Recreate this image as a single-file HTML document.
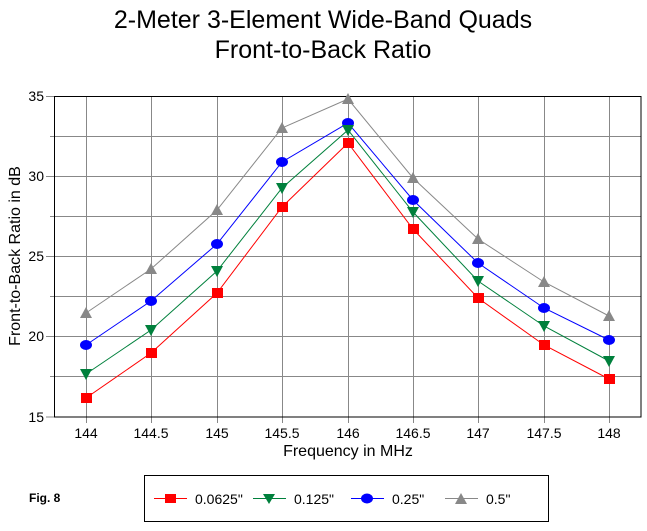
<!DOCTYPE html>
<html><head><style>
body{margin:0;background:#fff;}
svg text{font-family:"Liberation Sans",Arial,sans-serif;}
</style></head><body>
<svg width="647" height="526" xmlns="http://www.w3.org/2000/svg">
<rect width="647" height="526" fill="#fff"/>
<text x="323" y="28" font-size="25" text-anchor="middle">2-Meter 3-Element Wide-Band Quads</text>
<text x="323" y="58" font-size="25" text-anchor="middle">Front-to-Back Ratio</text>
<g stroke="#888" stroke-width="1">
<line x1="54" y1="136.5" x2="641" y2="136.5"/><line x1="50" y1="136.5" x2="54" y2="136.5"/>
<line x1="46" y1="176.5" x2="641" y2="176.5"/>
<line x1="54" y1="216.5" x2="641" y2="216.5"/><line x1="50" y1="216.5" x2="54" y2="216.5"/>
<line x1="46" y1="256.5" x2="641" y2="256.5"/>
<line x1="54" y1="296.5" x2="641" y2="296.5"/><line x1="50" y1="296.5" x2="54" y2="296.5"/>
<line x1="46" y1="336.5" x2="641" y2="336.5"/>
<line x1="54" y1="376.5" x2="641" y2="376.5"/><line x1="50" y1="376.5" x2="54" y2="376.5"/>
<line x1="46" y1="417" x2="54" y2="417"/><line x1="46" y1="96.5" x2="54" y2="96.5"/>
<line x1="86.5" y1="96" x2="86.5" y2="423"/>
<line x1="151.5" y1="96" x2="151.5" y2="423"/>
<line x1="217.5" y1="96" x2="217.5" y2="423"/>
<line x1="282.5" y1="96" x2="282.5" y2="423"/>
<line x1="348.5" y1="96" x2="348.5" y2="423"/>
<line x1="413.5" y1="96" x2="413.5" y2="423"/>
<line x1="478.5" y1="96" x2="478.5" y2="423"/>
<line x1="544.5" y1="96" x2="544.5" y2="423"/>
<line x1="609.5" y1="96" x2="609.5" y2="423"/>
</g>
<rect x="54.5" y="96.5" width="586.5" height="320.5" fill="none" stroke="#000"/>
<g font-size="14" text-anchor="end">
<text x="44" y="101">35</text><text x="44" y="181">30</text><text x="44" y="261">25</text><text x="44" y="341">20</text><text x="44" y="422">15</text>
</g>
<g font-size="14" text-anchor="middle">
<text x="86" y="438">144</text><text x="151" y="438">144.5</text><text x="217" y="438">145</text><text x="282" y="438">145.5</text><text x="348" y="438">146</text><text x="413" y="438">146.5</text><text x="478" y="438">147</text><text x="544" y="438">147.5</text><text x="609" y="438">148</text>
</g>
<text x="348" y="456" font-size="16" text-anchor="middle">Frequency in MHz</text>
<text transform="translate(20,256) rotate(-90)" font-size="16" text-anchor="middle">Front-to-Back Ratio in dB</text>
<g fill="none" stroke-width="1">
<polyline stroke="#888" points="86,313 151,269 217,210 282,128 348,99 413,178 478,239 544,282 609,316"/>
<polyline stroke="#00f" points="86,345 151,301 217,244 282,162 348,123 413,200 478,263 544,308 609,340"/>
<polyline stroke="#00803c" points="86,374 151,330 217,271 282,188 348,130 413,212 478,281 544,326 609,361"/>
<polyline stroke="#f00" points="86,398 151,353 217,293 282,207 348,143 413,229 478,298 544,345 609,379"/>
</g>
<g fill="#888">
<polygon points="86,307 80,318 92,318"/><polygon points="151,263 145,274 157,274"/><polygon points="217,204 211,215 223,215"/><polygon points="282,122 276,133 288,133"/><polygon points="348,93 342,104 354,104"/><polygon points="413,172 407,183 419,183"/><polygon points="478,233 472,244 484,244"/><polygon points="544,276 538,287 550,287"/><polygon points="609,310 603,321 615,321"/>
</g>
<g fill="#00f">
<ellipse cx="86" cy="345" rx="6" ry="5"/><ellipse cx="151" cy="301" rx="6" ry="5"/><ellipse cx="217" cy="244" rx="6" ry="5"/><ellipse cx="282" cy="162" rx="6" ry="5"/><ellipse cx="348" cy="123" rx="6" ry="5"/><ellipse cx="413" cy="200" rx="6" ry="5"/><ellipse cx="478" cy="263" rx="6" ry="5"/><ellipse cx="544" cy="308" rx="6" ry="5"/><ellipse cx="609" cy="340" rx="6" ry="5"/>
</g>
<g fill="#00803c">
<polygon points="80,369 92,369 86,380"/><polygon points="145,325 157,325 151,336"/><polygon points="211,266 223,266 217,277"/><polygon points="276,183 288,183 282,194"/><polygon points="342,125 354,125 348,136"/><polygon points="407,207 419,207 413,218"/><polygon points="472,276 484,276 478,287"/><polygon points="538,321 550,321 544,332"/><polygon points="603,356 615,356 609,367"/>
</g>
<g fill="#f00">
<rect x="81" y="393" width="11" height="10"/><rect x="146" y="348" width="11" height="10"/><rect x="212" y="288" width="11" height="10"/><rect x="277" y="202" width="11" height="10"/><rect x="343" y="138" width="11" height="10"/><rect x="408" y="224" width="11" height="10"/><rect x="473" y="293" width="11" height="10"/><rect x="539" y="340" width="11" height="10"/><rect x="604" y="374" width="11" height="10"/>
</g>
<text x="29" y="502" font-size="12" font-weight="bold">Fig. 8</text>
<rect x="144.5" y="475.5" width="404" height="46" fill="none" stroke="#000"/>
<g font-size="14">
<line x1="154" y1="498.5" x2="187" y2="498.5" stroke="#f00"/><rect x="165" y="494" width="11" height="9" fill="#f00"/>
<text x="195" y="504">0.0625"</text>
<line x1="253" y1="498.5" x2="286" y2="498.5" stroke="#00803c"/><polygon points="263,494 275,494 269,504" fill="#00803c"/>
<text x="294" y="504">0.125"</text>
<line x1="351" y1="498.5" x2="384" y2="498.5" stroke="#00f"/><ellipse cx="367" cy="498.5" rx="6" ry="5" fill="#00f"/>
<text x="392" y="504">0.25"</text>
<line x1="445" y1="498.5" x2="478" y2="498.5" stroke="#888"/><polygon points="461,493 455,504 467,504" fill="#888"/>
<text x="486" y="504">0.5"</text>
</g>
</svg>
</body></html>
